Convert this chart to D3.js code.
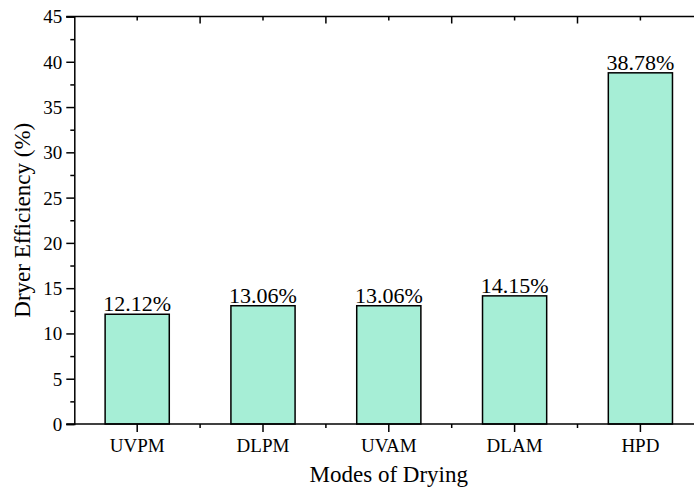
<!DOCTYPE html>
<html>
<head>
<meta charset="utf-8">
<script src="https://cdn.jsdelivr.net/npm/d3@7/dist/d3.min.js"></script>
<style>
  html, body { margin: 0; padding: 0; background: #fff; }
  svg { display: block; }
  text { font-family: "Liberation Serif", "Times New Roman", serif; fill: #000; }
</style>
</head>
<body>
<svg id="chart" width="694" height="489"></svg>
<script>
// Dryer efficiency per drying mode
const categories = ["UVPM", "DLPM", "UVAM", "DLAM", "HPD"];
const efficiency = [12.12, 13.06, 13.06, 14.15, 38.78];
const yTicks = [0, 5, 10, 15, 20, 25, 30, 35, 40, 45];

const svg = d3.select("#chart");
const plot = { left: 74.3, right: 703.3, top: 16.5, bottom: 424 };

const x = d3.scaleBand()
  .domain(categories)
  .range([plot.left, plot.right])
  .paddingInner(0.49)
  .paddingOuter(0.245);

const y = d3.scaleLinear().domain([0, 45]).range([plot.bottom, plot.top]);

const barFill = "#a6eed6";

// Bars
svg.append("g").selectAll("rect")
  .data(categories)
  .join("rect")
  .attr("x", d => x(d))
  .attr("y", (d, i) => y(efficiency[i]))
  .attr("width", x.bandwidth())
  .attr("height", (d, i) => y(0) - y(efficiency[i]))
  .attr("fill", barFill)
  .attr("stroke", "#000")
  .attr("stroke-width", 1.5);

// Value labels above bars
svg.append("g").selectAll("text")
  .data(categories)
  .join("text")
  .attr("x", d => x(d) + x.bandwidth() / 2)
  .attr("y", (d, i) => y(efficiency[i]) - 3)
  .attr("text-anchor", "middle")
  .attr("font-size", 22)
  .text((d, i) => efficiency[i].toFixed(2) + "%");

// Left axis: major ticks every 5, minor in between
const yMinor = d3.range(2.5, 45, 5);
const leftAxis = svg.append("g").attr("transform", `translate(${plot.left},0)`);
leftAxis.call(d3.axisLeft(y).tickValues(yTicks).tickSize(8).tickPadding(4).tickFormat(d3.format("d")));
const leftMinor = leftAxis.append("g").call(d3.axisLeft(y).tickValues(yMinor).tickSize(4).tickFormat(""));
leftMinor.select(".domain").remove();
leftAxis.selectAll(".domain").attr("stroke-width", 1.5);
leftAxis.selectAll("line").attr("stroke-width", 1.5);
leftAxis.selectAll("text")
  .attr("font-size", 19)
  .attr("font-family", "Liberation Serif, Times New Roman, serif")
  .attr("dy", "0.34em");

// Bottom axis: category ticks (major) and boundary ticks (minor)
const step = x.step();
const xCenter = c => x(c) + x.bandwidth() / 2;
const boundaries = categories.slice(0, -1).map(c => xCenter(c) + step / 2);

const bottomAxis = svg.append("g");
bottomAxis.append("line")
  .attr("x1", plot.left - 8).attr("x2", 694)
  .attr("y1", plot.bottom).attr("y2", plot.bottom)
  .attr("stroke", "#000").attr("stroke-width", 1.5);
bottomAxis.selectAll("line.major").data(categories).join("line")
  .attr("class", "major")
  .attr("x1", xCenter).attr("x2", xCenter)
  .attr("y1", plot.bottom).attr("y2", plot.bottom + 8)
  .attr("stroke", "#000").attr("stroke-width", 1.5);
bottomAxis.selectAll("line.minor").data(boundaries).join("line")
  .attr("class", "minor")
  .attr("x1", d => d).attr("x2", d => d)
  .attr("y1", plot.bottom).attr("y2", plot.bottom + 4)
  .attr("stroke", "#000").attr("stroke-width", 1.5);
bottomAxis.selectAll("text").data(categories).join("text")
  .attr("x", xCenter)
  .attr("y", plot.bottom + 28)
  .attr("text-anchor", "middle")
  .attr("font-size", 19)
  .text(d => d);

// Top frame line with inward ticks
const topAxis = svg.append("g");
topAxis.append("line")
  .attr("x1", plot.left - 8).attr("x2", 694)
  .attr("y1", plot.top).attr("y2", plot.top)
  .attr("stroke", "#000").attr("stroke-width", 1.5);
topAxis.selectAll("line.major").data(categories).join("line")
  .attr("class", "major")
  .attr("x1", xCenter).attr("x2", xCenter)
  .attr("y1", plot.top).attr("y2", plot.top + 4)
  .attr("stroke", "#000").attr("stroke-width", 1.5);
topAxis.selectAll("line.minor").data(boundaries).join("line")
  .attr("class", "minor")
  .attr("x1", d => d).attr("x2", d => d)
  .attr("y1", plot.top).attr("y2", plot.top + 7)
  .attr("stroke", "#000").attr("stroke-width", 1.5);

// Axis titles
svg.append("text")
  .attr("x", (plot.left + plot.right) / 2)
  .attr("y", 482)
  .attr("text-anchor", "middle")
  .attr("font-size", 23)
  .text("Modes of Drying");

svg.append("text")
  .attr("transform", `translate(30,${(plot.top + plot.bottom) / 2}) rotate(-90)`)
  .attr("text-anchor", "middle")
  .attr("font-size", 23)
  .text("Dryer Efficiency (%)");
</script>
</body>
</html>
